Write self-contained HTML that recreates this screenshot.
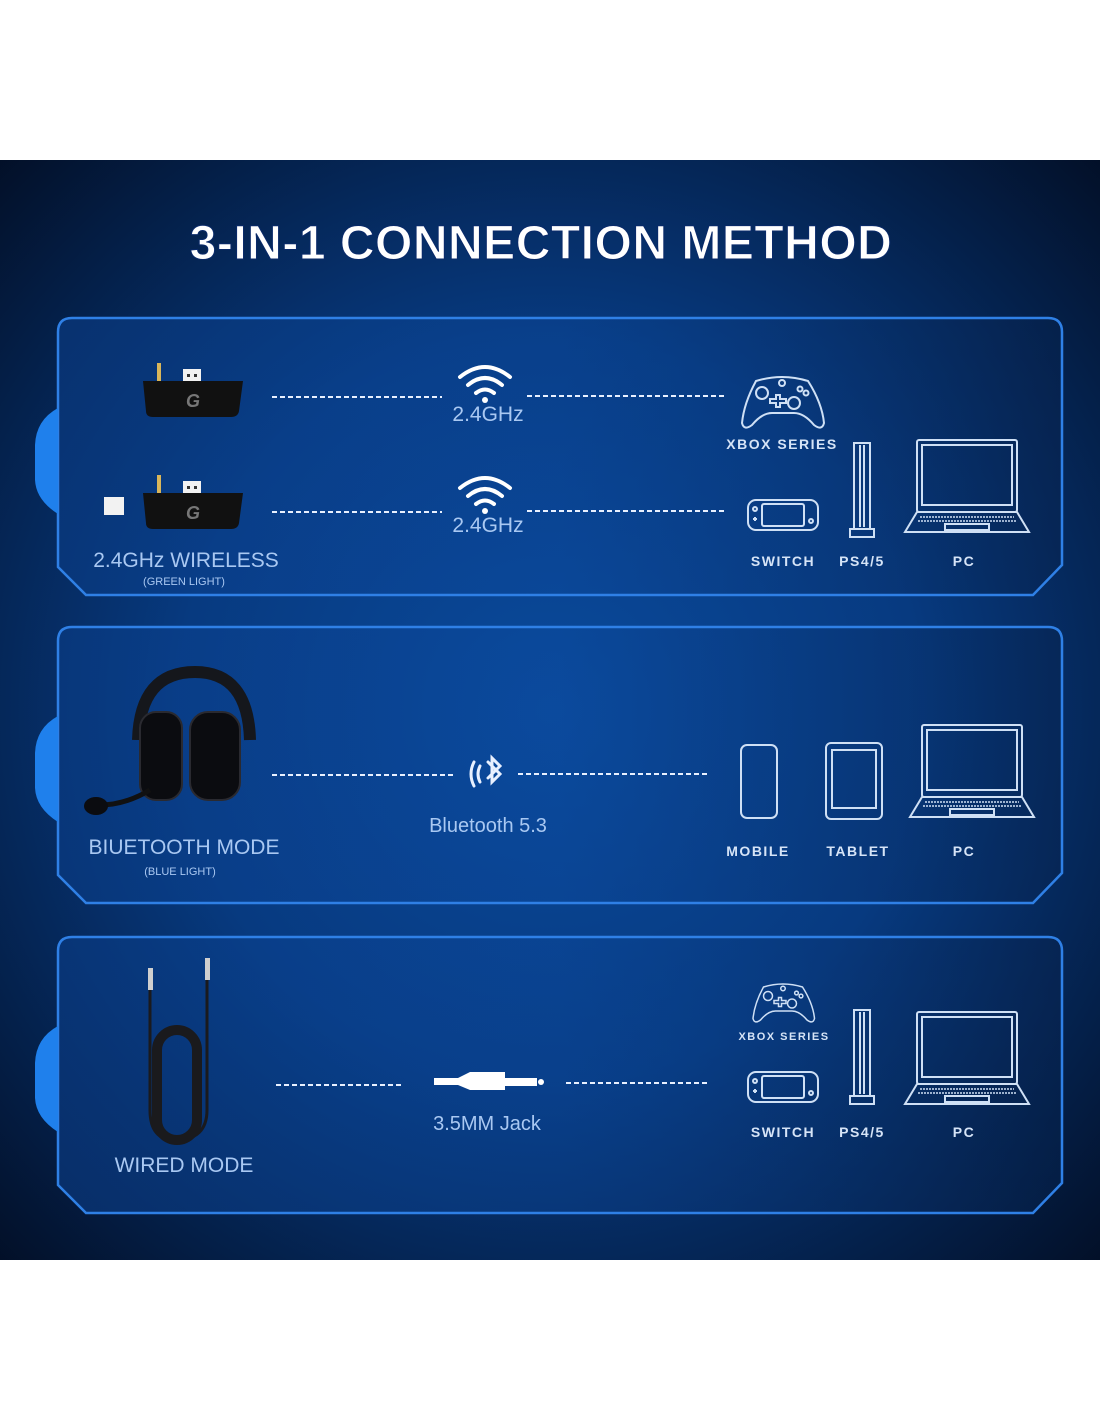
<!DOCTYPE html>
<html><head><meta charset="utf-8"><style>
html,body{margin:0;padding:0;background:#fff;}
svg{display:block}
</style></head><body>
<svg width="1100" height="1422" viewBox="0 0 1100 1422" xmlns="http://www.w3.org/2000/svg" font-family="Liberation Sans, sans-serif">
<defs>
<radialGradient id="bg" cx="0.5" cy="0.5" r="0.75">
<stop offset="0" stop-color="#0a4a9c"/>
<stop offset="0.45" stop-color="#073a80"/>
<stop offset="1" stop-color="#020b1e"/>
</radialGradient>
<linearGradient id="pf" x1="0" y1="0" x2="1" y2="0">
<stop offset="0" stop-color="#0a3d88" stop-opacity="0.6"/>
<stop offset="0.5" stop-color="#0c4aa0" stop-opacity="0.35"/>
<stop offset="1" stop-color="#06234f" stop-opacity="0.5"/>
</linearGradient>
<g id="laptop" fill="none" stroke="#cfe0f5" stroke-width="2">
<rect x="12" y="0" width="100" height="72" rx="2"/>
<rect x="17" y="5" width="90" height="60"/>
<path d="M12 72 L0 92 L124 92 L112 72 Z"/>
<rect x="40" y="84" width="44" height="6"/>
<path d="M15 77 H109 M13 81 H111" stroke-width="1.5" stroke-dasharray="2 1"/>
</g>
<g id="xbox" fill="none" stroke="#cfe0f5" stroke-width="2">
<path d="M14 8 Q40 0 66 8 Q80 30 82 50 Q80 58 72 52 Q62 40 52 40 H30 Q20 40 10 52 Q2 58 0 50 Q2 30 14 8 Z"/>
<circle cx="20" cy="20" r="6"/><circle cx="52" cy="30" r="6"/>
<path d="M28 26 h6 v-4 h4 v4 h6 v4 h-6 v4 h-4 v-4 h-6z"/>
<circle cx="58" cy="16" r="2.5"/><circle cx="64" cy="20" r="2.5"/><circle cx="40" cy="10" r="3"/>
</g>
<g id="switch" fill="none" stroke="#cfe0f5" stroke-width="2">
<rect x="0" y="0" width="70" height="30" rx="8"/>
<rect x="14" y="4" width="42" height="22" rx="2"/>
<circle cx="7" cy="9" r="2"/><circle cx="63" cy="21" r="2"/>
<path d="M5 19 h4 M7 17 v4"/>
</g>
<g id="ps5" fill="none" stroke="#cfe0f5" stroke-width="2">
<path d="M4 0 H20 V86 H4 Z M10 2 V84 M14 2 V84"/>
<path d="M0 86 H24 V94 H0 Z"/>
</g>
<g id="dongle">
<rect x="14" y="-18" width="4" height="20" fill="#d9b65a"/>
<rect x="40" y="-12" width="18" height="14" fill="#f2f2f2"/>
<rect x="44" y="-7" width="3" height="3" fill="#333"/><rect x="51" y="-7" width="3" height="3" fill="#333"/>
<path d="M0 0 H100 L96 30 Q95 36 88 36 H10 Q3 36 3 30 Z" fill="#111"/>
<text x="50" y="26" fill="#777" font-size="18" font-style="italic" font-weight="bold" text-anchor="middle">G</text>
</g>
<g id="wifi" fill="none" stroke="#fff" stroke-width="4" stroke-linecap="round">
<path d="M0 10 Q25 -10 50 10"/><path d="M8 18 Q25 4 42 18"/><path d="M16 26 Q25 19 34 26"/>
<circle cx="25" cy="33" r="3" fill="#fff" stroke="none"/>
</g>
</defs>
<rect x="0" y="160" width="1100" height="1100" fill="url(#bg)"/>
<text x="541" y="259" fill="#fff" font-size="48" font-weight="bold" letter-spacing="0.5" text-anchor="middle" stroke="#0a2a6a" stroke-width="1">3-IN-1 CONNECTION METHOD</text>

<g stroke="#2f80e6" stroke-width="2.5" fill="url(#pf)">
<path d="M72 318 H1048 Q1062 318 1062 332 V565 L1033 595 H86 L58 567 V332 Q58 318 72 318 Z"/>
<path d="M72 627 H1048 Q1062 627 1062 641 V873 L1033 903 H86 L58 875 V641 Q58 627 72 627 Z"/>
<path d="M72 937 H1048 Q1062 937 1062 951 V1183 L1033 1213 H86 L58 1185 V951 Q58 937 72 937 Z"/>
</g>
<g fill="#1f80ec">
<path d="M58 408 Q36 420 35 445 V480 Q36 500 58 514 Z"/>
<path d="M58 716 Q36 728 35 753 V788 Q36 808 58 822 Z"/>
<path d="M58 1026 Q36 1038 35 1063 V1098 Q36 1118 58 1132 Z"/>
</g>

<g stroke="#e8f0ff" stroke-width="2" stroke-dasharray="5 3">
<path d="M272 397 H442 M527 396 H726"/>
<path d="M272 512 H442 M527 511 H726"/>
<path d="M272 775 H455 M518 774 H710"/>
<path d="M276 1085 H402 M566 1083 H710"/>
</g>

<use href="#dongle" x="143" y="381"/>
<use href="#dongle" x="143" y="493"/>
<rect x="104" y="497" width="20" height="18" fill="#f2f2f2"/>
<use href="#wifi" x="460" y="367"/>
<use href="#wifi" x="460" y="478"/>
<g fill="#a9c8f2" font-size="21" text-anchor="middle">
<text x="488" y="421">2.4GHz</text>
<text x="488" y="532">2.4GHz</text>
</g>
<text x="186" y="567" fill="#a9c8f2" font-size="21" text-anchor="middle">2.4GHz WIRELESS</text>
<text x="184" y="585" fill="#a9c8f2" font-size="11" text-anchor="middle">(GREEN LIGHT)</text>
<use href="#xbox" x="742" y="373"/>
<use href="#switch" x="748" y="500"/>
<use href="#ps5" x="850" y="443"/>
<use href="#laptop" x="905" y="440"/>
<g fill="#d6e4f7" font-size="14" font-weight="bold" letter-spacing="1.5" text-anchor="middle">
<text x="782" y="449">XBOX SERIES</text>
<text x="783" y="566">SWITCH</text>
<text x="862" y="566">PS4/5</text>
<text x="964" y="566">PC</text>
</g>

<g>
<path d="M138 740 Q140 672 195 672 Q248 672 250 740" stroke="#15171c" stroke-width="12" fill="none"/>
<rect x="140" y="712" width="42" height="88" rx="16" fill="#0b0c10" stroke="#2a2a30" stroke-width="2"/>
<rect x="190" y="712" width="50" height="88" rx="18" fill="#0b0c10" stroke="#2a2a30" stroke-width="2"/>
<path d="M150 790 Q125 805 100 805" stroke="#111" stroke-width="5" fill="none"/>
<ellipse cx="96" cy="806" rx="12" ry="9" fill="#0b0c10"/>
</g>
<text x="184" y="854" fill="#a9c8f2" font-size="21" text-anchor="middle">BIUETOOTH MODE</text>
<text x="180" y="875" fill="#a9c8f2" font-size="11" text-anchor="middle">(BLUE LIGHT)</text>
<g stroke="#e8f0ff" stroke-width="3" fill="none" stroke-linecap="round">
<path d="M488 762 L500 774 L492 782 V758 L500 766 L488 778"/>
<path d="M480 766 Q476 774 480 782 M474 762 Q468 774 474 786"/>
</g>
<text x="488" y="832" fill="#a9c8f2" font-size="20" text-anchor="middle">Bluetooth 5.3</text>
<g fill="none" stroke="#cfe0f5" stroke-width="2">
<rect x="741" y="745" width="36" height="73" rx="6"/>
<rect x="826" y="743" width="56" height="76" rx="5"/>
<rect x="832" y="750" width="44" height="58"/>
</g>
<use href="#laptop" x="910" y="725"/>
<g fill="#d6e4f7" font-size="14" font-weight="bold" letter-spacing="1.5" text-anchor="middle">
<text x="758" y="856">MOBILE</text>
<text x="858" y="856">TABLET</text>
<text x="964" y="856">PC</text>
</g>

<g stroke="#1a1a1d" fill="none">
<path d="M150 990 V1110 Q150 1140 175 1140 Q207 1140 207 1110 V980" stroke-width="3"/>
<rect x="157" y="1030" width="40" height="110" rx="20" stroke-width="10"/>
</g>
<rect x="148" y="968" width="5" height="22" fill="#cfcfcf"/>
<rect x="205" y="958" width="5" height="22" fill="#cfcfcf"/>
<text x="184" y="1172" fill="#a9c8f2" font-size="21" text-anchor="middle">WIRED MODE</text>
<path d="M434 1078 H458 L470 1072 H505 V1090 H470 L458 1085 H434 Z M505 1078 H537 V1086 H505 Z" fill="#fff"/>
<circle cx="541" cy="1082" r="3" fill="#fff"/>
<text x="487" y="1130" fill="#a9c8f2" font-size="20" text-anchor="middle">3.5MM Jack</text>
<use href="#xbox" x="753" y="981" transform="translate(753 981) scale(0.75) translate(-753 -981)"/>
<use href="#switch" x="748" y="1072"/>
<use href="#ps5" x="850" y="1010"/>
<use href="#laptop" x="905" y="1012"/>
<g fill="#d6e4f7" font-size="14" font-weight="bold" letter-spacing="1.5" text-anchor="middle">
<text x="784" y="1040" font-size="11">XBOX SERIES</text>
<text x="783" y="1137">SWITCH</text>
<text x="862" y="1137">PS4/5</text>
<text x="964" y="1137">PC</text>
</g>
</svg>
</body></html>
